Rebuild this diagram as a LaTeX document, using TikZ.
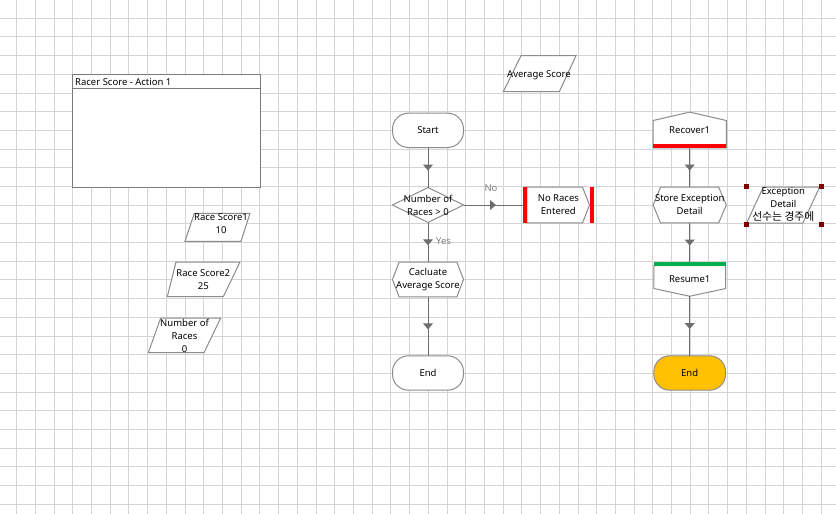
\documentclass[tikz,border=0pt]{standalone}
\usepackage{fontspec}
\setmainfont{Noto Sans}
\newfontfamily\krfont{Noto Sans CJK KR}
\usetikzlibrary{arrows.meta,decorations.markings,calc,backgrounds}
\definecolor{gridc}{HTML}{D4D4D4}
\definecolor{shapec}{HTML}{8C8C8C}
\definecolor{boxc}{HTML}{7A7A7A}
\definecolor{linec}{HTML}{6E6E6E}
\definecolor{labelc}{HTML}{808080}
\definecolor{barred}{HTML}{FF0000}
\definecolor{bargreen}{HTML}{00B050}
\definecolor{endorange}{HTML}{FFC000}
\definecolor{handlec}{HTML}{800000}
\tikzset{
  gridline/.style={draw=gridc, line width=1pt},
  outline/.style={draw=shapec, line width=1pt, fill=white},
  txt/.style={inner sep=0pt, align=center, font=\fontsize{9.5}{13}\selectfont, text=black},
  flownode/.style n args={2}{txt, minimum width=#1, minimum height=#2},
  lbl/.style={inner sep=0pt, font=\fontsize{9.5}{13}\selectfont, text=labelc},
  conn/.style={draw=linec, line width=1pt, postaction={decorate},
    decoration={markings, mark=at position 0.5 with {\arrow[xshift=3pt]{Triangle[width=10pt,length=6pt]}}}},
}
\begin{document}
\begin{tikzpicture}[x=1pt,y=-1pt]
\useasboundingbox (0,0) rectangle (836,514);
% ---- nodes (text) ----
\node[txt, anchor=west] (racertitle) at (75,81.7) {Racer Score - Action 1};
\node[txt] (rs1) at (221,224) {Race Score1\\10};
\node[txt] (rs2) at (203.3,280) {Race Score2\\25};
\node[txt] (nr) at (184.5,336) {Number of\\Races\\0};
\node[txt] (avg) at (539,75) {Average Score};
\node[txt] (exc) at (783.3,204.5) {Exception\\Detail\\{\krfont\fontsize{10.8}{13}\selectfont 선수는 경주에}};

\node[flownode={70.6pt}{34pt}] (start) at (428,130.3) {Start};
\node[flownode={70.6pt}{34.6pt}] (dec) at (428,205) {Number of\\Races > 0};
\node[flownode={71.3pt}{35.4pt}] (nore) at (558.35,205) {No Races\\Entered};
\node[flownode={70.6pt}{34.4pt}] (calc) at (428,279.5) {Cacluate\\Average Score};
\node[flownode={70.6pt}{34pt}] (end1) at (428,373) {End};

\node[flownode={72.7pt}{35.4pt}] (rec) at (689.7,130) {Recover1};
\node[flownode={72.7pt}{35.4pt}] (sed) at (689.7,205) {Store Exception\\Detail};
\node[flownode={71.3pt}{33.7pt}] (res) at (689.7,279.2) {Resume1};
\node[flownode={71.3pt}{34pt}] (end2) at (689.7,373) {End};

\node[lbl] (nolbl) at (491,188.5) {No};
\node[lbl] (yeslbl) at (443.5,241.5) {Yes};

% ---- background: grid and outlines ----
\begin{scope}[on background layer]
  \fill[white] (0,0) rectangle (836,514);
  \foreach \i in {0,...,43} \draw[gridline] ({16.7+18.71*\i},0) -- ({16.7+18.71*\i},514);
  \foreach \j in {0,...,26} \draw[gridline] (0,{18.3+18.69*\j}) -- (836,{18.3+18.69*\j});

  % racer score box
  \draw[outline, draw=boxc] (72.3,74.7) rectangle (260.3,187);
  \draw[draw=boxc, line width=1pt] (72.3,88.7) -- (260.3,88.7);

  % parallelograms
  \draw[outline] (194.3,213.3) -- (250,213.3) -- (241,241.3) -- (185,241.3) -- cycle;
  \draw[outline] (176,262) -- (240,262) -- (223.3,296.7) -- (167.3,296.7) -- cycle;
  \draw[outline] (160.7,318) -- (220.7,318) -- (204,352.7) -- (148.3,352.7) -- cycle;
  \draw[outline] (521,55.7) -- (576,55.7) -- (559.3,91.7) -- (503.3,91.7) -- cycle;
  \draw[outline] (763.3,187) -- (819.7,187) -- (802.9,223) -- (746.7,223) -- cycle;
  \foreach \p in {(746.3,186.3),(821.7,186.3),(746.3,224.3),(821.7,224.3)}
    \fill[handlec] \p ++(-2.5,-2.5) rectangle ++(5,5);

  % middle flow
  \draw[outline, rounded corners=16pt] (start.north west) rectangle (start.south east);
  \draw[outline] (dec.north) -- (dec.east) -- (dec.south) -- (dec.west) -- cycle;
  \draw[outline] ($(nore.north west)+(4.3,0)$) -- ($(nore.north east)+(-11.7,0)$)
     -- ($(nore.east)+(-4.7,0)$) -- ($(nore.south east)+(-11.7,0)$) -- ($(nore.south west)+(4.3,0)$) -- cycle;
  \fill[barred] (nore.north west) rectangle ($(nore.south west)+(4.3,0)$);
  \fill[barred] ($(nore.north east)+(-4.7,0)$) rectangle (nore.south east);
  \draw[outline] (calc.west) -- ($(calc.north west)+(6.6,0)$) -- ($(calc.north east)+(-6.6,0)$)
     -- (calc.east) -- ($(calc.south east)+(-6.6,0)$) -- ($(calc.south west)+(6.6,0)$) -- cycle;
  \draw[outline, rounded corners=16pt] (end1.north west) rectangle (end1.south east);

  % right flow
  \draw[outline] (rec.south west) -- ($(rec.north west)+(0,8.4)$) -- (rec.north)
     -- ($(rec.north east)+(0,8.4)$) -- (rec.south east) -- cycle;
  \fill[barred] ($(rec.south west)+(0,-4.4)$) rectangle (rec.south east);
  \draw[outline] (sed.west) -- ($(sed.north west)+(7.4,0)$) -- ($(sed.north east)+(-7.6,0)$)
     -- (sed.east) -- ($(sed.south east)+(-7.6,0)$) -- ($(sed.south west)+(7.4,0)$) -- cycle;
  \draw[outline] ($(res.north west)+(0,3.4)$) -- ($(res.south west)+(0,-7.7)$) -- (res.south)
     -- ($(res.south east)+(0,-7.7)$) -- ($(res.north east)+(0,3.4)$) -- cycle;
  \fill[bargreen] (res.north west) rectangle ($(res.north east)+(0,3.4)$);
  \draw[outline, fill=endorange, rounded corners=16pt] (end2.north west) rectangle (end2.south east);
\end{scope}

% ---- connectors ----
\draw[conn] (start.south) -- (dec.north);
\draw[conn] (dec.east) -- (nore.west);
\draw[conn] (dec.south) -- (calc.north);
\draw[conn] (calc.south) -- (end1.north);
\draw[conn] (rec.south) -- (sed.north);
\draw[conn] (sed.south) -- (res.north);
\draw[conn] (res.south) -- (end2.north);
\end{tikzpicture}
\end{document}
